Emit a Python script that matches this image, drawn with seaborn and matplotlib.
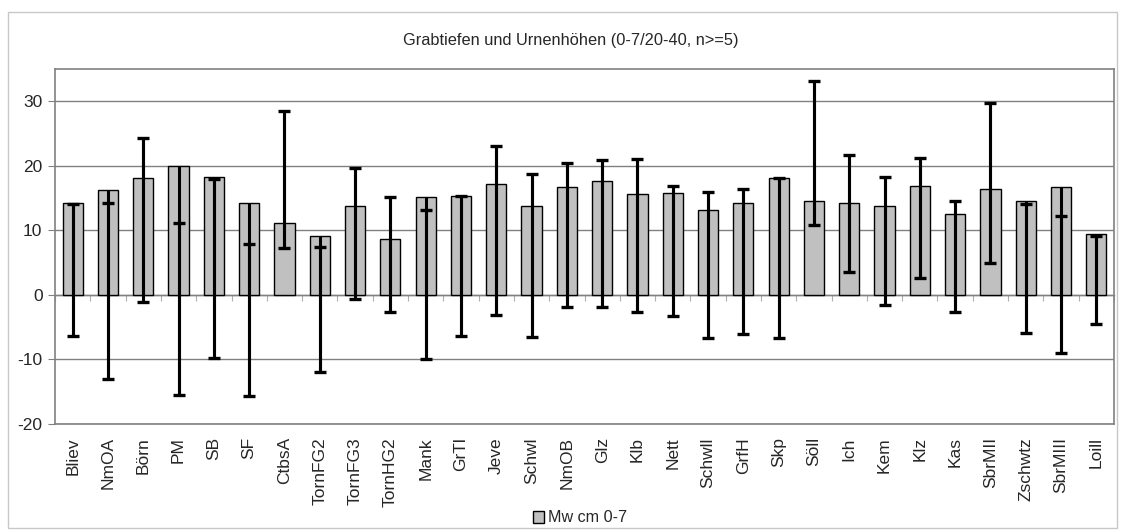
import numpy as np
import pandas as pd
import matplotlib
matplotlib.use("Agg")
import matplotlib.pyplot as plt
from matplotlib.patches import Rectangle, Patch
import seaborn as sns

# Sites and mean depth (cm, layer 0-7)
sites = ["Bliev", "NmOA", "Börn", "PM", "SB", "SF", "CtbsA", "TornFG2", "TornFG3",
         "TornHG2", "Mank", "GrTl", "Jeve", "Schwl", "NmOB", "Glz", "Klb", "Nett",
         "Schwll", "GrfH", "Skp", "Söll", "Ich", "Kem", "Klz", "Kas", "SbrMII",
         "Zschwtz", "SbrMIII", "Loill"]
mean_07 = [14.3, 16.2, 18.1, 19.9, 18.2, 14.2, 11.1, 9.1, 13.8,
           8.7, 15.2, 15.4, 17.2, 13.7, 16.7, 17.7, 15.6, 15.8,
           13.1, 14.2, 18.1, 14.6, 14.3, 13.7, 16.8, 12.6, 16.4,
           14.5, 16.7, 9.4]
# Error bar end points (upper and lower cap positions)
err_high = [14.1, 14.3, 24.3, 11.2, 17.9, 7.9, 28.5, 7.4, 19.6,
            15.2, 13.2, 15.3, 23.1, 18.7, 20.4, 20.9, 21.1, 16.9,
            15.9, 16.4, 18.1, 33.2, 21.6, 18.2, 21.2, 14.6, 29.8,
            14.1, 12.3, 9.2]
err_low = [-6.4, -13.0, -1.1, -15.5, -9.7, -15.7, 7.2, -12.0, -0.6,
           -2.7, -10.0, -6.4, -3.1, -6.5, -1.9, -1.9, -2.6, -3.3,
           -6.7, -6.0, -6.7, 10.8, 3.5, -1.6, 2.6, -2.6, 5.0,
           -5.9, -9.0, -4.5]

title = "Grabtiefen und Urnenhöhen (0-7/20-40, n>=5)"
series_label = "Mw cm 0-7"

df = pd.DataFrame({"site": sites, "value": mean_07})

sns.set_style("white")
plt.rcParams["font.family"] = ["Liberation Sans", "DejaVu Sans"]
plt.rcParams["axes.unicode_minus"] = False

fig = plt.figure(figsize=(11.23, 5.32), dpi=100)
W, H = 1123, 532
ax = fig.add_axes([55 / W, 1 - 424 / H, (1114 - 55) / W, (424 - 69) / H])

sns.barplot(data=df, x="site", y="value", color="#c0c0c0", edgecolor="black",
            linewidth=1.0, width=0.57, saturation=1, ax=ax, zorder=3)

# Error bars: caps at both end points, line also reaching up/down to the bar top
xs = np.arange(len(sites))
hi = np.array(err_high)
lo = np.array(err_low)
v = np.array(mean_07)
center = (hi + lo) / 2
half = np.abs(hi - lo) / 2
ax.errorbar(xs, center, yerr=half, fmt="none", ecolor="black", elinewidth=2.2,
            capsize=4, capthick=2.4, zorder=4)
top = np.maximum(np.maximum(hi, lo), v)
bottom = np.minimum(np.minimum(hi, lo), v)
ax.vlines(xs, bottom, top, colors="black", linewidth=2.2, zorder=4)

ax.set_ylim(-20, 35)
ax.set_xlim(-0.5, len(sites) - 0.5)
ax.set_yticks([-20, -10, 0, 10, 20, 30])
ax.yaxis.grid(True, color="#808080", linewidth=1.0, zorder=0)
ax.set_axisbelow(True)
for s in ax.spines.values():
    s.set_visible(True)
    s.set_color("#808080")
    s.set_linewidth(1.2)
ax.set_xlabel("")
ax.set_ylabel("")
ax.tick_params(axis="y", left=True, length=5, color="#808080", labelsize=12.5, pad=4)
ax.tick_params(axis="x", bottom=False, labelsize=12.5, labelrotation=90, pad=6)
for lab in ax.get_xticklabels():
    lab.set_verticalalignment("top")

# Category axis crossing at zero with ticks between categories
zero_frac = (0 - (-20)) / (35 - (-20))
sec = ax.secondary_xaxis(zero_frac)
sec.set_xticks(np.arange(len(sites) + 1) - 0.5)
sec.set_xticklabels([])
sec.tick_params(length=4, color="#b0b0b0", direction="out")
sec.spines["bottom"].set_color("#808080")
sec.spines["bottom"].set_linewidth(1.0)
sec.spines["bottom"].set_zorder(2)

fig.text(571 / W, 1 - 41 / H, title, ha="center", va="center", fontsize=11.8)

handle = Patch(facecolor="#c0c0c0", edgecolor="black", linewidth=1.0)
fig.legend([handle], [series_label], loc="center", bbox_to_anchor=(580 / W, 1 - 518 / H),
           frameon=False, fontsize=11.6, handlelength=0.7, handleheight=0.7,
           handletextpad=0.2, borderpad=0.1)

fig.patches.append(Rectangle((8 / W, 1 - 528 / H), (1117 - 8) / W, (528 - 12) / H,
                             transform=fig.transFigure, fill=False,
                             edgecolor="#c8c8c8", linewidth=1.0))

fig.savefig("out.png", dpi=100)
